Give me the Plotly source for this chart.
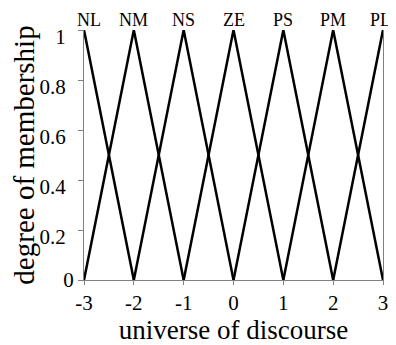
import plotly.graph_objects as go

labels = ["NL", "NM", "NS", "ZE", "PS", "PM", "PL"]
centers = [-3, -2, -1, 0, 1, 2, 3]
half_width = 1
x_ticks = [-3, -2, -1, 0, 1, 2, 3]
x_tick_text = ["-3", "-2", "-1", "0", "1", "2", "3"]
y_ticks = [0, 0.2, 0.4, 0.6, 0.8, 1]
y_tick_text = ["0", "", "", "", "", ""]
y_upper_ticks = [0.2, 0.4, 0.6, 0.8, 1]
y_upper_text = ["0.2", "0.4", "0.6", "0.8", "1"]

FONT = "Liberation Serif"
LABEL_DROP = 0.028  # upper y labels sit ~7px below their ticks, as in the reference

fig = go.Figure()
for lab, c in zip(labels, centers):
    xs = [c - half_width, c, c + half_width]
    ys = [0, 1, 0]
    fig.add_trace(go.Scatter(x=xs, y=ys, mode="lines", name=lab,
                             line=dict(color="black", width=2.5),
                             showlegend=False, hoverinfo="skip"))
    shift = 5 if c == centers[0] else (-3 if c == centers[-1] else 0)
    fig.add_annotation(x=c, y=1.0, xref="x", yref="paper", text=lab,
                       showarrow=False, yanchor="bottom", yshift=-2,
                       xshift=shift,
                       font=dict(family=FONT, size=18, color="black"))

# invisible trace to anchor the overlay axis carrying the upper labels
fig.add_trace(go.Scatter(x=[None], y=[None], yaxis="y2", showlegend=False,
                         hoverinfo="skip"))

# page body has an 8px margin, so the figure is 8px smaller and margins shifted
fig.update_layout(
    width=388, height=337,
    margin=dict(l=76, r=13, t=22, b=65),
    paper_bgcolor="white", plot_bgcolor="white",
    font=dict(family=FONT, color="black"),
    yaxis2=dict(overlaying="y", side="left",
                range=[LABEL_DROP, 1 + LABEL_DROP],
                tickvals=y_upper_ticks, ticktext=y_upper_text,
                showgrid=False, zeroline=False, showline=False,
                ticks="outside", ticklen=5, tickcolor="rgba(0,0,0,0)",
                ticklabelstandoff=8,
                automargin=False,
                tickfont=dict(family=FONT, size=21, color="black")),
)
fig.update_xaxes(range=[-3, 3], tickvals=x_ticks, ticktext=x_tick_text,
                 automargin=False,
                 showgrid=False, zeroline=False, showline=True,
                 linecolor="#808080", linewidth=1, ticks="outside",
                 ticklen=4, tickcolor="#808080",
                 tickfont=dict(family=FONT, size=21, color="black"),
                 title=dict(text="universe of discourse",
                            font=dict(family=FONT, size=27, color="black"),
                            standoff=14))
fig.layout.yaxis.update(range=[0, 1], tickvals=y_ticks, ticktext=y_tick_text,
                        automargin=False,
                        showgrid=False, zeroline=False, showline=True, mirror=True,
                        linecolor="#808080", linewidth=1, ticks="outside",
                        ticklen=5, tickcolor="#808080",
                        tickfont=dict(family=FONT, size=21, color="black"),
                        title=dict(text="degree of membership",
                                   font=dict(family=FONT, size=29, color="black"),
                                   standoff=21))

fig.write_html("out.html")
